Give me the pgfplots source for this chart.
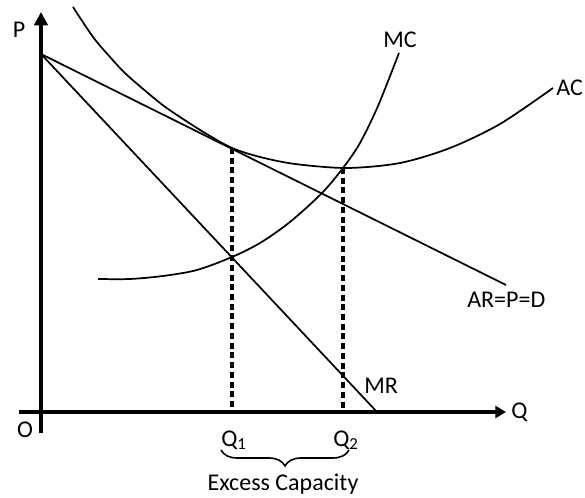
\documentclass[border=0pt]{standalone}
\usepackage{fontspec}
\setmainfont{Carlito}
\usepackage{pgfplots}
\pgfplotsset{compat=1.18}
\usetikzlibrary{arrows.meta,decorations.pathreplacing}

\begin{document}
\begin{tikzpicture}[
    lbl/.style={font=\fontsize{18}{21.6}\selectfont, inner sep=0pt},
]
\begin{axis}[
    width=438.75pt, height=373.5pt,
    scale only axis,
    xmin=0, xmax=585, ymin=0, ymax=498,
    hide axis,
    clip=false,
]
% keep the full frame as bounding box
\path (axis cs:0,0) rectangle (axis cs:585,498);

% axes
\addplot[line width=2.5pt, -{Triangle[length=10pt,width=10pt]}] coordinates {(41,65) (41,486)};
\addplot[line width=2.5pt, -{Triangle[length=8pt,width=9pt]}] coordinates {(19,86) (506,86)};

% AR and MR
\addplot[line width=1.3pt] coordinates {(41,444) (506,213)};
\addplot[line width=1.3pt] coordinates {(41,444) (377,86)};

% AC curve
\addplot[line width=1.3pt, smooth] coordinates {
    (73,491) (93,461) (110,441) (127,423) (160,395) (180,381)
    (205,365) (232,350) (260,341) (295,334) (347,330)
    (400,335) (450,350) (500,374) (553,410)
};

% MC curve
\addplot[line width=1.3pt, smooth] coordinates {
    (98,219) (130,219) (163,222) (197,228) (232,241) (260,255)
    (290,276) (322,305) (343,330) (360,355) (378,392) (399,445)
};

% dashed guides
\addplot[black, line width=3pt, dash pattern=on 4.5pt off 2.8pt] coordinates {(232,350) (232,86)};
\addplot[black, line width=3pt, dash pattern=on 4.5pt off 2.8pt] coordinates {(343,330) (343,86)};

% brace
\draw[line width=1.2pt, decorate, decoration={brace, mirror, amplitude=12pt}]
    (axis cs:221,48) -- (axis cs:349,48);

% labels
\node[lbl] at (axis cs:19,468) {P};
\node[lbl] at (axis cs:25,68) {O};
\node[lbl, anchor=west] at (axis cs:511,86) {Q};
\node[lbl] at (axis cs:234,58) {Q\textsubscript{1}};
\node[lbl] at (axis cs:346,58) {Q\textsubscript{2}};
\node[lbl] at (axis cs:283,14) {Excess Capacity};
\node[lbl] at (axis cs:400,458) {MC};
\node[lbl, anchor=west] at (axis cs:556,410) {AC};
\node[lbl, anchor=west] at (axis cs:364,112) {MR};
\node[lbl, anchor=west] at (axis cs:467,198) {AR=P=D};
\end{axis}
\end{tikzpicture}
\end{document}
